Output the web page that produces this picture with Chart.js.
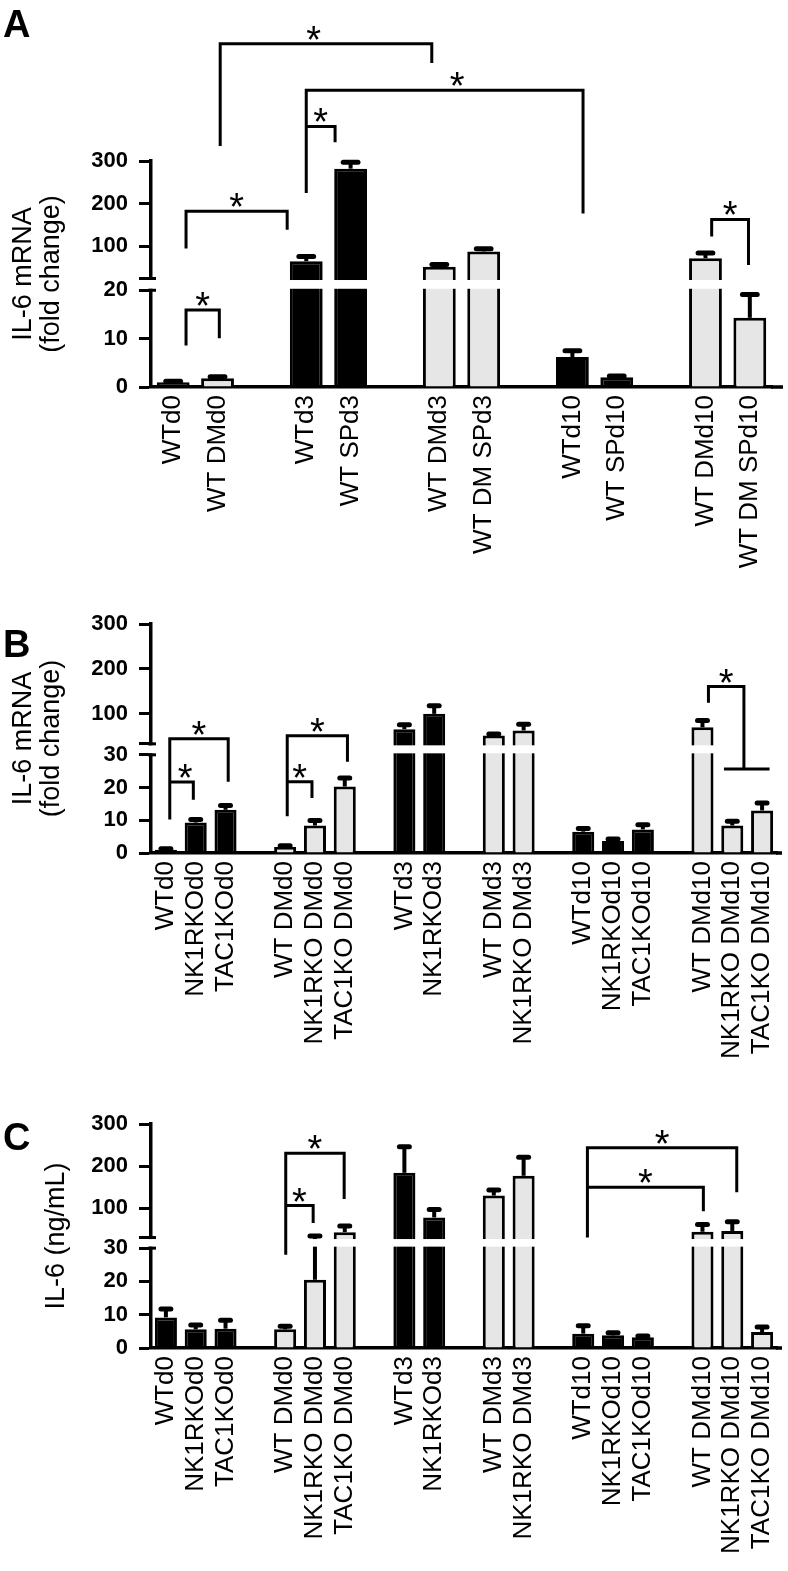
<!DOCTYPE html>
<html>
<head>
<meta charset="utf-8">
<script src="https://cdn.jsdelivr.net/npm/chart.js@4.4.1/dist/chart.umd.min.js"></script>
<style>
  body { margin: 0; background: #fff; }
  .panel { position: relative; width: 788px; }
</style>
</head>
<body>
<div class="panel" style="height:600px"><canvas id="chartA"></canvas></div>
<div class="panel" style="height:500px"><canvas id="chartB"></canvas></div>
<div class="panel" style="height:471px"><canvas id="chartC"></canvas></div>
<script>
const GRAY = '#e6e6e6';
const FONT = "'Liberation Sans', Arial, sans-serif";

// panel A
const labelsA = ['WTd0', 'WT DMd0', '', 'WTd3', 'WT SPd3', '', 'WT DMd3', 'WT DM SPd3', '',
                 'WTd10', 'WT SPd10', '', 'WT DMd10', 'WT DM SPd10'];
const meanA = [1.0, 1.8, null, 65, 282, null, 52, 88, null, 6.2, 2.0, null, 72, 14.3];
const errA  = [0.2, 0.3, null, 11, 15, null, 5, 6, null, 1.3, 0.3, null, 12, 4.8];
const ticksA = [0, 10, 20, 100, 200, 300];
// brackets: x in category index, y in axis units, sx = star shift in categories
const bracketsA = [
  { x1: 0.29, x2: 1.04, y: 15.9, y1: 8.6, y2: 10.1 },
  { x1: 0.29, x2: 2.57, y: 182, y1: 94.7, y2: 139 },
  { x1: 1.06, x2: 5.83, y: 575, y1: 335, y2: 530, sx: -0.28 },
  { x1: 3.0, x2: 9.24, y: 466, y1: 225, y2: 177, sx: 0.28 },
  { x1: 3.0, x2: 3.65, y: 381, y1: 381, y2: 344 },
  { x1: 12.14, x2: 12.97, y: 163, y1: 123, y2: 56 }
];

// panels B and C
const labelsBC = ['WTd0', 'NK1RKOd0', 'TAC1KOd0', '', 'WT DMd0', 'NK1RKO DMd0', 'TAC1KO DMd0', '',
                  'WTd3', 'NK1RKOd3', '', 'WT DMd3', 'NK1RKO DMd3', '',
                  'WTd10', 'NK1RKOd10', 'TAC1KOd10', '', 'WT DMd10', 'NK1RKO DMd10', 'TAC1KO DMd10'];
const meanB = [1.0, 9.3, 13.2, null, 1.8, 8.4, 20.3, null, 66, 100, null, 52, 63, null,
               6.5, 3.7, 7.2, null, 70, 8.4, 13];
const errB  = [0.3, 0.9, 1.3, null, 0.4, 1.5, 2.6, null, 10, 18, null, 3, 14, null,
               1.0, 0.6, 1.4, null, 15, 1.3, 2.3];
const ticksB = [0, 10, 20, 30, 100, 200, 300];
const bracketsB = [
  { x1: 0.13, x2: 2.09, y: 44.4, y1: 10.2, y2: 21.8 },
  { x1: 0.13, x2: 0.92, y: 21.7, y1: 21.7, y2: 16.3, sx: 0.12 },
  { x1: 4.07, x2: 6.09, y: 51.1, y1: 11.2, y2: 27.9 },
  { x1: 4.07, x2: 4.9, y: 21.8, y1: 21.8, y2: 16.8 },
  { x1: 18.2, x2: 19.39, y: 160.7, y1: 125, y2: 25.7, bar: [18.72, 20.25] }
];

const meanC = [9.2, 5.6, 5.8, null, 5.6, 20.5, 43, null, 184, 78, null, 130, 177, null,
               4.3, 3.8, 3.2, null, 44, 46, 4.8];
const errC  = [2.5, 1.3, 2.5, null, 0.9, 13.5, 15, null, 62, 19, null, 13, 44, null,
               2.4, 0.8, 0.4, null, 17, 22, 1.5];
const ticksC = [0, 10, 20, 30, 100, 200, 300];
const bracketsC = [
  { x1: 4.02, x2: 5.98, y: 230.6, y1: 28, y2: 121.6 },
  { x1: 4.02, x2: 4.94, y: 106.4, y1: 106.4, y2: 64.7 },
  { x1: 14.14, x2: 19.15, y: 243.8, y1: 30.3, y2: 137.9 },
  { x1: 14.14, x2: 18.03, y: 149.8, y1: 149.8, y2: 93 }
];

const panels = {
  chartA: {
    letter: 'A', letterY: 37, title: ['IL-6 mRNA', '(fold change)'], titleX: [24, 52],
    labels: labelsA, mean: meanA, err: errA, ticks: ticksA, brackets: bracketsA,
    brk: { low: 20, high: 24.4, max: 300, fl: 0.428, fg: 0.052 },
    padTop: 161, padRight: 16, xHeight: 213, axisExtra: 11
  },
  chartB: {
    letter: 'B', letterY: 57, title: ['IL-6 mRNA', '(fold change)'], titleX: [24, 52],
    labels: labelsBC, mean: meanB, err: errB, ticks: ticksB, brackets: bracketsB,
    brk: { low: 30, high: 33.3, max: 300, fl: 0.4287, fg: 0.048 },
    padTop: 24, padRight: 11, xHeight: 247, axisExtra: 5
  },
  chartC: {
    letter: 'C', letterY: 50, title: ['IL-6 (ng/mL)'], titleX: [57],
    labels: labelsBC, mean: meanC, err: errC, ticks: ticksC, brackets: bracketsC,
    brk: { low: 30, high: 30.3, max: 300, fl: 0.4458, fg: 0.0473 },
    padTop: 24, padRight: 11, xHeight: 223, axisExtra: 5
  }
};

// linear axis with a break: lower part, a gap, then a compressed upper part
class BrokenScale extends Chart.LinearScale {
  frac(v) {
    const b = panels[this.chart.canvas.id].brk;
    const fh = 1 - b.fl - b.fg;
    if (v <= b.low) return v / b.low * b.fl;
    if (v < b.high) return b.fl + (v - b.low) / (b.high - b.low) * b.fg;
    return b.fl + b.fg + (v - b.high) / (b.max - b.high) * fh;
  }
  getPixelForValue(v) {
    return v == null ? NaN : this.getPixelForDecimal(this.frac(v));
  }
  getValueForPixel(px) {
    const b = panels[this.chart.canvas.id].brk;
    const d = this.getDecimalForPixel(px);
    if (d <= b.fl) return d / b.fl * b.low;
    if (d < b.fl + b.fg) return b.low + (d - b.fl) / b.fg * (b.high - b.low);
    return b.high + (d - b.fl - b.fg) / (1 - b.fl - b.fg) * (b.max - b.high);
  }
}
BrokenScale.id = 'broken';
BrokenScale.defaults = Chart.LinearScale.defaults;
Chart.register(BrokenScale);

const decor = {
  id: 'decor',
  afterDatasetsDraw(chart) {
    const p = panels[chart.canvas.id];
    const { ctx, chartArea: ca } = chart;
    const ys = chart.scales.y;
    ctx.save();
    ctx.strokeStyle = '#000';
    chart.getDatasetMeta(0).data.forEach((bar, i) => {
      if (p.mean[i] == null) return;
      const top = ys.getPixelForValue(p.mean[i] + p.err[i]);
      ctx.lineWidth = 4;
      ctx.lineCap = 'butt';
      ctx.beginPath();
      ctx.moveTo(bar.x, bar.y);
      ctx.lineTo(bar.x, top);
      ctx.stroke();
      const half = bar.width * 0.225;
      ctx.lineWidth = 5;
      ctx.lineCap = 'round';
      ctx.beginPath();
      ctx.moveTo(bar.x - half, top);
      ctx.lineTo(bar.x + half, top);
      ctx.stroke();
    });
    // white band of the axis break
    const gTop = ys.getPixelForValue(p.brk.high);
    const gBot = ys.getPixelForValue(p.brk.low);
    ctx.fillStyle = '#fff';
    ctx.fillRect(ca.left - 3, gTop + 1.5, ca.right - ca.left + 12, gBot - gTop - 3);
    ctx.lineWidth = 3;
    ctx.lineCap = 'butt';
    [gTop, gBot].forEach(g => {
      ctx.beginPath();
      ctx.moveTo(ca.left - 3, g);
      ctx.lineTo(ca.left + 5, g);
      ctx.stroke();
    });
    // x axis line runs a little past the last bar
    ctx.lineWidth = 3.5;
    ctx.beginPath();
    ctx.moveTo(ca.right - 1, ca.bottom);
    ctx.lineTo(ca.right + p.axisExtra, ca.bottom);
    ctx.stroke();
    ctx.restore();
  },
  afterDraw(chart) {
    const p = panels[chart.canvas.id];
    const { ctx, chartArea: ca } = chart;
    const xs = chart.scales.x, ys = chart.scales.y;
    ctx.save();
    ctx.strokeStyle = '#000';
    ctx.fillStyle = '#000';
    ctx.lineWidth = 3;
    ctx.lineJoin = 'miter';
    ctx.lineCap = 'butt';
    p.brackets.forEach(b => {
      const x1 = xs.getPixelForValue(b.x1), x2 = xs.getPixelForValue(b.x2);
      const yy = ys.getPixelForValue(b.y);
      ctx.beginPath();
      ctx.moveTo(x1, ys.getPixelForValue(b.y1));
      ctx.lineTo(x1, yy);
      ctx.lineTo(x2, yy);
      ctx.lineTo(x2, ys.getPixelForValue(b.y2));
      ctx.stroke();
      if (b.bar) {
        const yb = ys.getPixelForValue(b.y2);
        ctx.beginPath();
        ctx.moveTo(xs.getPixelForValue(b.bar[0]), yb);
        ctx.lineTo(xs.getPixelForValue(b.bar[1]), yb);
        ctx.stroke();
      }
      const sx = xs.getPixelForValue((b.x1 + b.x2) / 2 + (b.sx || 0));
      ctx.font = '38px ' + FONT;
      ctx.textAlign = 'center';
      ctx.textBaseline = 'alphabetic';
      ctx.fillText('*', sx, yy + 9);
    });
    // axis title
    const cy = (ca.top + ca.bottom) / 2;
    ctx.font = '27px ' + FONT;
    ctx.textAlign = 'center';
    ctx.textBaseline = 'middle';
    p.title.forEach((t, i) => {
      ctx.save();
      ctx.translate(p.titleX[i], cy);
      ctx.rotate(-Math.PI / 2);
      ctx.fillText(t, 0, 0);
      ctx.restore();
    });
    // panel letter
    ctx.font = 'bold 38px ' + FONT;
    ctx.textAlign = 'left';
    ctx.textBaseline = 'alphabetic';
    ctx.fillText(p.letter, 3, p.letterY);
    ctx.restore();
  }
};

Object.keys(panels).forEach(id => {
  const p = panels[id];
  new Chart(document.getElementById(id), {
    type: 'bar',
    data: {
      labels: p.labels,
      datasets: [{
        data: p.mean,
        backgroundColor: p.labels.map(l => l.includes('DM') ? GRAY : '#000'),
        borderColor: '#000',
        borderWidth: 3,
        barPercentage: 0.74,
        categoryPercentage: 1
      }]
    },
    options: {
      responsive: true,
      maintainAspectRatio: false,
      animation: false,
      events: [],
      layout: { padding: { top: p.padTop, right: p.padRight, left: 0, bottom: 0 } },
      plugins: { legend: { display: false }, tooltip: { enabled: false } },
      scales: {
        x: {
          offset: true,
          grid: { display: false, drawTicks: false },
          border: { display: true, color: '#000', width: 3.5 },
          ticks: {
            autoSkip: false, minRotation: 90, maxRotation: 90, padding: 8,
            color: '#000', font: { family: FONT, size: 26 }
          },
          afterFit: s => { s.height = p.xHeight; s.paddingLeft = 0; s.paddingRight = 0; }
        },
        y: {
          type: 'broken',
          min: 0,
          max: 300,
          afterBuildTicks: s => {
            s.ticks = p.ticks.concat([p.brk.high]).sort((a, b) => a - b).map(v => ({ value: v }));
          },
          afterFit: s => { s.width = 151; s.paddingTop = 0; s.paddingBottom = 0; },
          grid: {
            display: true, drawOnChartArea: false, drawTicks: true,
            tickLength: 12, tickColor: '#000', tickWidth: 3
          },
          border: { display: true, color: '#000', width: 3.5 },
          ticks: {
            autoSkip: false, padding: 11, color: '#000',
            font: { family: FONT, size: 22, weight: 'bold' },
            callback: v => (v === p.brk.high ? '' : v)
          }
        }
      }
    },
    plugins: [decor]
  });
});
</script>
</body>
</html>
